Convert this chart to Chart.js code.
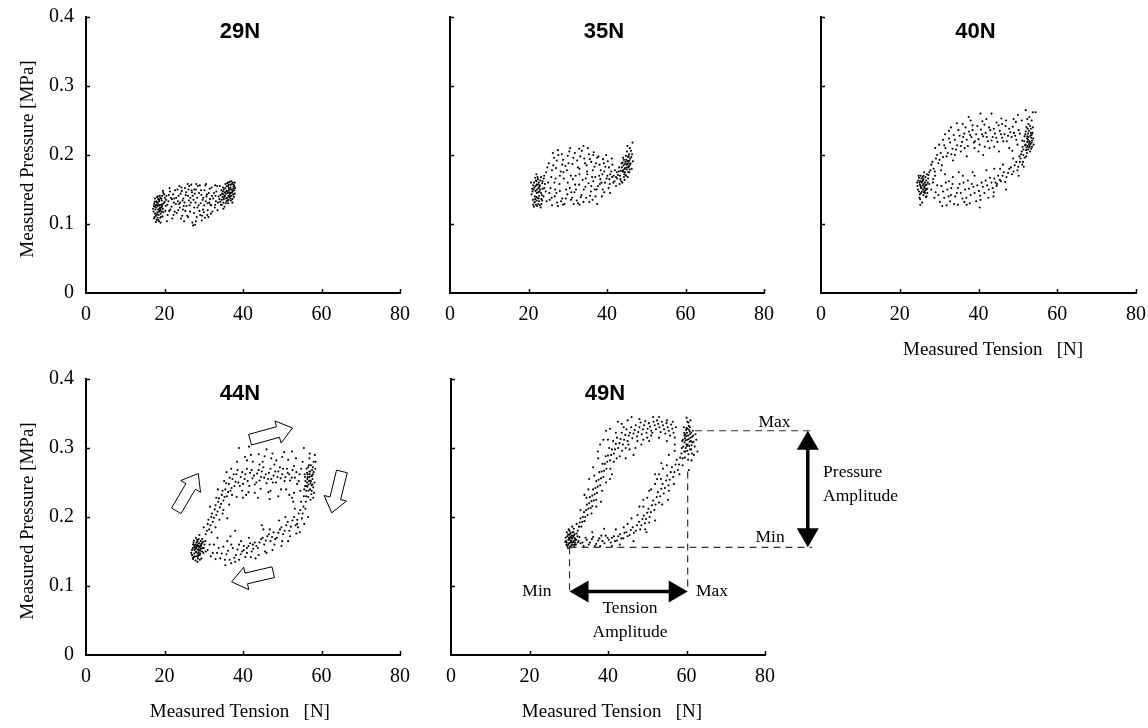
<!DOCTYPE html>
<html>
<head>
<meta charset="utf-8">
<title>Measured pressure vs measured tension</title>
<script src="https://cdn.jsdelivr.net/npm/chart.js@4.4.1/dist/chart.umd.min.js"></script>
<style>
	body { margin: 0; background: #fff; }
	#board { position: relative; width: 1148px; height: 728px; overflow: hidden; background: #fff; }
	#board canvas { position: absolute; }
</style>
</head>
<body>
<div id="board"></div>
<script>
// panel labels and axis ticks
const loadLabels = ['29N', '35N', '40N', '44N', '49N'];
const tensionTicks = [0, 20, 40, 60, 80];
const pressureTicks = [0, 0.1, 0.2, 0.3, 0.4];

// [tension N, pressure MPa]
const loop29N = [
	[17.2,0.118],[17.5,0.125],[17.8,0.112],[18.1,0.131],[18.4,0.121],[18.0,0.106],[18.7,0.127],[19.0,0.115],[19.3,0.134],[17.6,0.137],
	[18.3,0.140],[18.9,0.109],[19.6,0.122],[17.4,0.129],[18.2,0.117],[18.6,0.133],[19.1,0.128],[17.9,0.124],[18.5,0.113],[19.4,0.141],
	[17.3,0.108],[18.8,0.119],[19.8,0.130],[18.0,0.128],[18.4,0.136],[17.7,0.121],[19.2,0.124],[18.6,0.104],[19.5,0.111],[20.1,0.138],
	[17.5,0.132],[18.1,0.114],[18.9,0.138],[19.7,0.145],[20.3,0.126],[18.3,0.126],[17.8,0.103],[19.0,0.102],[18.7,0.122],[19.3,0.118],
	[17.1,0.122],[17.9,0.133],[18.2,0.109],[18.5,0.128],[18.8,0.141],[19.1,0.110],[19.4,0.126],[19.7,0.117],[20.0,0.132],[17.6,0.115],
	[18.3,0.131],[18.9,0.124],[19.2,0.137],[17.8,0.127],[18.6,0.118],[19.5,0.129],[20.2,0.119],[18.1,0.139],[17.5,0.110],[19.9,0.143],
	[18.4,0.106],[19.0,0.121],[18.7,0.135],[17.3,0.126],[20.4,0.135],
	[20.5,0.141],[21.0,0.133],[21.4,0.147],[21.8,0.125],[22.2,0.143],[22.6,0.118],[23.0,0.138],[23.3,0.150],[23.7,0.129],[24.1,0.144],
	[24.5,0.112],[24.8,0.137],[25.2,0.152],[25.6,0.126],[26.0,0.141],[26.3,0.155],[26.7,0.131],[27.0,0.146],[27.3,0.098],[27.6,0.124],
	[28.0,0.150],[28.3,0.138],[28.7,0.127],[29.0,0.156],[29.4,0.142],[29.8,0.121],[30.2,0.149],[30.5,0.133],[30.9,0.113],[31.3,0.145],
	[31.7,0.128],[32.0,0.153],[32.4,0.137],[32.8,0.124],[33.2,0.147],[33.6,0.131],[22.0,0.108],[23.5,0.120],[25.0,0.104],[26.5,0.118],
	[28.2,0.110],[29.5,0.105],[31.0,0.120],[27.8,0.099],[24.0,0.131],[26.2,0.134],[28.8,0.145],[30.7,0.140],[32.2,0.118],[21.2,0.119],
	[22.9,0.129],[25.4,0.142],[27.4,0.135],[29.2,0.130],[31.6,0.136],[33.0,0.141],[26.9,0.149],[24.4,0.148],[20.8,0.113],[30.0,0.117],
	[20.7,0.128],[21.1,0.142],[21.5,0.121],[21.9,0.136],[22.4,0.131],[22.7,0.149],[23.1,0.116],[23.6,0.141],[23.9,0.124],[24.3,0.153],
	[24.7,0.121],[25.1,0.131],[25.5,0.146],[25.8,0.112],[26.4,0.127],[26.8,0.157],[27.2,0.141],[27.5,0.116],[27.9,0.131],[28.5,0.155],
	[28.9,0.119],[29.3,0.149],[29.7,0.135],[30.1,0.127],[30.4,0.156],[30.8,0.143],[31.2,0.110],[31.5,0.151],[31.9,0.127],[32.6,0.145],
	[33.1,0.133],[33.4,0.155],[22.5,0.137],[24.6,0.134],[26.1,0.150],[27.7,0.144],[29.9,0.138],[32.1,0.141],[25.3,0.119],[28.4,0.124],
	[30.3,0.109],[23.4,0.133],[21.6,0.138],[26.6,0.138],[31.4,0.131],[27.1,0.102],[29.1,0.113],
	[21.3,0.152],[23.8,0.155],[25.9,0.158],[28.1,0.158],[30.6,0.158],[32.9,0.156],[34.1,0.155],[22.3,0.113],[24.2,0.108],[26.0,0.110],
	[28.0,0.104],[29.6,0.112],[31.8,0.115],[33.5,0.120],[35.0,0.122],[19.6,0.148],[20.6,0.104],[24.9,0.126],[27.6,0.150],[31.0,0.130],
	[32.9,0.128],[34.6,0.135],[37.9,0.160],
	[34.0,0.136],[34.3,0.142],[34.6,0.128],[34.9,0.147],[35.2,0.139],[35.5,0.152],[35.8,0.133],[36.1,0.145],[36.4,0.157],[36.7,0.140],
	[37.0,0.150],[37.3,0.136],[37.6,0.154],[35.0,0.131],[35.6,0.144],[36.0,0.138],[36.3,0.149],[36.6,0.161],[36.9,0.145],[37.2,0.158],
	[37.5,0.143],[37.8,0.149],[35.3,0.125],[35.9,0.155],[36.2,0.130],[36.8,0.153],[37.1,0.141],[34.5,0.149],[35.7,0.137],[36.5,0.146],
	[37.4,0.160],[36.0,0.159],[35.4,0.146],[34.8,0.139],[36.9,0.134],[38.0,0.152],[37.7,0.139],[36.3,0.141],[35.1,0.150],[36.7,0.150],
	[33.8,0.140],[34.2,0.132],[34.7,0.144],[35.1,0.136],[35.4,0.141],[35.8,0.148],[36.1,0.134],[36.4,0.152],[36.6,0.143],[36.9,0.157],
	[37.2,0.146],[37.5,0.151],[37.9,0.144],[36.2,0.155],[35.6,0.130],[36.8,0.137],[37.3,0.131],[35.0,0.143],[36.5,0.139],[37.6,0.157],
	[34.4,0.128],[36.0,0.147],[37.0,0.162],[35.5,0.158],[36.7,0.145],[37.8,0.155],[34.9,0.153],[36.3,0.135],[37.4,0.148],[36.1,0.160]
];
const loop35N = [
	[20.8,0.143],[21.2,0.156],[21.5,0.131],[21.8,0.148],[22.0,0.162],[22.3,0.138],[22.6,0.152],[22.9,0.127],[23.2,0.145],[23.5,0.159],
	[21.4,0.125],[21.7,0.167],[22.1,0.134],[22.4,0.157],[22.7,0.141],[23.0,0.163],[23.3,0.136],[21.9,0.128],[22.2,0.150],[22.8,0.147],
	[21.6,0.140],[23.6,0.151],[22.5,0.129],[21.3,0.150],[23.9,0.166],[22.0,0.172],[24.2,0.158],[22.4,0.165],[21.1,0.135],[23.1,0.124],
	[22.6,0.160],[21.8,0.155],[23.4,0.142],[24.4,0.147],[20.6,0.160],
	[21.0,0.147],[21.4,0.160],[21.7,0.136],[22.1,0.145],[22.3,0.168],[22.7,0.133],[23.0,0.150],[23.3,0.129],[23.6,0.162],[21.5,0.153],
	[22.0,0.139],[22.5,0.146],[22.9,0.156],[21.2,0.128],[23.8,0.140],[22.2,0.126],[21.9,0.163],[23.2,0.168],[24.0,0.152],[20.9,0.151],
	[22.6,0.137],[21.6,0.132],[23.5,0.134],[22.8,0.154],[22.1,0.157],
	[24.5,0.175],[25.2,0.188],[25.8,0.168],[26.5,0.196],[27.0,0.181],[27.6,0.200],[28.2,0.176],[28.8,0.193],[29.4,0.184],[30.0,0.199],
	[30.6,0.210],[31.2,0.187],[31.8,0.203],[32.4,0.192],[33.0,0.180],[33.6,0.206],[34.2,0.195],[34.8,0.185],[35.4,0.201],[36.0,0.190],
	[36.6,0.204],[37.2,0.188],[37.8,0.198],[38.4,0.178],[39.0,0.194],[39.6,0.183],[40.2,0.191],[40.8,0.172],[41.4,0.186],[42.0,0.178],
	[35.0,0.172],[32.0,0.170],[29.0,0.166],[26.0,0.178],[38.0,0.170],
	[25.0,0.160],[25.6,0.152],[26.3,0.185],[26.9,0.166],[27.2,0.192],[27.9,0.158],[28.5,0.201],[28.9,0.175],[29.6,0.150],[30.2,0.188],
	[30.8,0.170],[31.4,0.196],[31.9,0.157],[32.6,0.182],[33.2,0.198],[33.8,0.164],[34.4,0.188],[34.9,0.176],[35.6,0.194],[36.2,0.168],
	[36.8,0.183],[37.4,0.150],[38.1,0.186],[38.6,0.160],[39.3,0.176],[39.9,0.166],[40.5,0.182],[41.1,0.176],[41.7,0.170],[42.3,0.168],
	[26.2,0.203],[28.6,0.186],[32.9,0.209],[35.1,0.210],[37.5,0.196],[24.8,0.182],[39.8,0.200],
	[24.0,0.170],[26.6,0.160],[28.0,0.170],[29.8,0.178],[31.3,0.165],[33.0,0.172],[34.6,0.166],[36.4,0.178],[38.8,0.172],[40.6,0.165],
	[27.5,0.207],[30.4,0.205],[34.0,0.213],[36.5,0.200],[39.2,0.188],[41.2,0.195],[25.4,0.135],[28.8,0.128],[32.6,0.130],[35.5,0.132],
	[38.7,0.140],[40.8,0.145],[42.3,0.155],[26.8,0.150],[30.8,0.135],[37.0,0.168],
	[24.6,0.133],[25.3,0.145],[26.0,0.127],[26.7,0.140],[27.3,0.131],[28.0,0.148],[28.6,0.137],[29.2,0.129],[29.9,0.143],[30.5,0.152],
	[31.1,0.138],[31.7,0.146],[32.3,0.134],[32.9,0.157],[33.5,0.142],[34.1,0.150],[34.7,0.138],[35.3,0.159],[35.9,0.147],[36.5,0.162],
	[37.1,0.140],[37.7,0.155],[38.3,0.165],[38.9,0.150],[39.5,0.160],[40.1,0.170],[40.7,0.158],[41.3,0.168],[41.9,0.162],[42.5,0.175],
	[37.5,0.129],[27.5,0.126],[33.0,0.128],[30.0,0.160],[36.0,0.155],
	[25.9,0.138],[27.1,0.145],[28.3,0.133],[29.5,0.137],[30.9,0.146],[32.1,0.150],[33.3,0.139],[34.5,0.154],[35.7,0.141],[36.9,0.150],
	[38.2,0.158],[39.3,0.146],[40.4,0.152],[41.6,0.160],[31.5,0.129],[34.0,0.132],[36.3,0.135],
	[42.8,0.171],[43.1,0.182],[43.4,0.165],[43.7,0.188],[44.0,0.176],[44.3,0.193],[44.6,0.181],[44.9,0.170],[45.2,0.187],[45.5,0.198],
	[43.9,0.160],[44.4,0.172],[44.7,0.190],[45.0,0.179],[45.3,0.168],[45.6,0.184],[45.9,0.195],[44.2,0.185],[44.8,0.199],[45.1,0.205],
	[45.7,0.175],[46.0,0.188],[43.5,0.177],[44.5,0.164],[45.4,0.191],[46.3,0.180],[45.8,0.210],[46.5,0.218],[45.2,0.213],[46.2,0.197],
	[43.2,0.158],[44.1,0.196],[46.6,0.191],[44.6,0.175],[45.5,0.182],
	[42.6,0.166],[43.0,0.176],[43.3,0.170],[43.8,0.182],[44.1,0.178],[44.3,0.168],[44.6,0.187],[44.9,0.193],[45.1,0.182],[45.4,0.175],
	[45.7,0.192],[45.9,0.186],[44.5,0.180],[45.0,0.186],[45.3,0.197],[44.0,0.189],[45.6,0.201],[46.1,0.206],[44.7,0.171],[43.6,0.162],
	[45.2,0.191],[46.4,0.201],[45.8,0.179],[44.2,0.176],[45.5,0.188]
];
const loop40N = [
	[24.5,0.155],[24.9,0.147],[25.2,0.162],[25.5,0.153],[25.8,0.168],[26.1,0.158],[26.4,0.145],[26.7,0.163],[27.0,0.151],[25.0,0.138],
	[25.3,0.170],[25.6,0.160],[25.9,0.150],[26.2,0.175],[26.5,0.156],[26.8,0.140],[27.2,0.166],[24.7,0.163],[25.4,0.145],[26.0,0.165],
	[26.3,0.152],[25.7,0.131],[26.9,0.172],[27.5,0.158],[25.1,0.157],[26.6,0.149],[25.2,0.128],[27.8,0.178],[24.8,0.170],[26.0,0.142],
	[24.6,0.150],[25.0,0.160],[25.3,0.155],[25.6,0.147],[25.9,0.163],[26.2,0.154],[26.5,0.168],[26.7,0.151],[27.1,0.160],[25.1,0.143],
	[25.5,0.166],[25.8,0.156],[26.1,0.146],[26.4,0.160],[26.8,0.157],[24.9,0.167],[25.4,0.152],[26.0,0.170],[26.6,0.139],[27.3,0.171],
	[24.4,0.160],[25.7,0.162],[26.3,0.148],[25.2,0.136],[27.0,0.145],
	[27.5,0.175],[28.0,0.186],[28.6,0.180],[29.2,0.195],[29.8,0.188],[30.4,0.203],[31.0,0.197],[31.6,0.210],[32.2,0.203],[32.8,0.218],
	[33.4,0.209],[34.0,0.222],[34.6,0.214],[35.2,0.228],[35.8,0.219],[36.4,0.231],[37.0,0.222],[37.6,0.234],[38.2,0.226],[38.8,0.218],
	[39.4,0.230],[40.0,0.223],[40.6,0.237],[41.2,0.227],[41.8,0.232],[42.4,0.220],[43.0,0.236],[43.6,0.226],[44.2,0.231],[44.8,0.219],
	[45.4,0.235],[46.0,0.225],[46.6,0.230],[47.2,0.220],[47.8,0.238],[48.4,0.226],[49.0,0.232],[49.6,0.222],[50.2,0.236],[33.0,0.240],
	[36.0,0.245],[38.5,0.243],[40.5,0.260],[43.3,0.260],[47.0,0.250],[41.6,0.212],[44.6,0.247],[30.0,0.215],[35.5,0.205],[39.0,0.210],
	[28.3,0.190],[28.9,0.176],[29.5,0.200],[30.1,0.193],[30.7,0.185],[31.3,0.214],[31.9,0.198],[32.5,0.224],[33.1,0.201],[33.7,0.229],
	[34.3,0.208],[34.9,0.236],[35.5,0.213],[36.1,0.226],[36.7,0.240],[37.3,0.213],[37.9,0.229],[38.5,0.236],[39.1,0.220],[39.7,0.242],
	[40.3,0.215],[40.9,0.230],[41.5,0.244],[42.1,0.226],[42.7,0.240],[43.3,0.221],[43.9,0.238],[44.5,0.225],[45.1,0.243],[45.7,0.230],
	[46.3,0.220],[46.9,0.242],[47.5,0.228],[48.1,0.233],[48.7,0.241],[49.3,0.228],[49.9,0.215],[50.5,0.231],[37.5,0.255],[41.0,0.249],
	[45.8,0.253],[48.9,0.252],[34.5,0.246],[31.5,0.230],[42.8,0.210],
	[29.0,0.210],[31.0,0.222],[32.5,0.235],[34.0,0.200],[36.5,0.210],[38.0,0.250],[40.0,0.205],[42.0,0.252],[44.0,0.212],[46.0,0.245],
	[47.8,0.210],[49.5,0.248],[51.0,0.250],[28.5,0.165],[30.5,0.178],[33.5,0.192],[37.0,0.198],[41.2,0.200],[45.2,0.205],[48.6,0.206],
	[50.0,0.258],[53.8,0.262],[52.4,0.252],
	[28.0,0.150],[28.8,0.138],[29.5,0.156],[30.2,0.132],[31.0,0.147],[31.7,0.160],[32.4,0.140],[33.1,0.152],[33.8,0.129],[34.5,0.145],
	[35.2,0.158],[35.9,0.137],[36.6,0.150],[37.3,0.163],[38.0,0.142],[38.7,0.154],[39.4,0.133],[40.1,0.148],[40.8,0.160],[41.5,0.145],
	[42.2,0.156],[42.9,0.167],[43.6,0.152],[44.3,0.160],[45.0,0.170],[45.7,0.162],[46.4,0.175],[47.1,0.168],[47.8,0.180],[48.5,0.172],
	[49.2,0.185],[49.9,0.178],[30.8,0.126],[37.8,0.130],[40.3,0.124],[42.5,0.138],[36.0,0.170],[33.5,0.168],[44.6,0.155],[39.0,0.170],
	[28.4,0.160],[29.1,0.146],[29.8,0.142],[30.6,0.155],[31.3,0.138],[32.1,0.150],[32.8,0.133],[33.4,0.158],[34.1,0.140],[34.8,0.152],
	[35.5,0.145],[36.2,0.160],[36.9,0.138],[37.6,0.151],[38.3,0.158],[39.0,0.145],[39.7,0.156],[40.4,0.141],[41.1,0.154],[41.8,0.163],
	[42.6,0.150],[43.3,0.160],[44.0,0.166],[44.7,0.158],[45.4,0.164],[46.1,0.170],[46.8,0.161],[47.5,0.174],[48.2,0.182],[48.9,0.176],
	[49.6,0.190],[50.1,0.183],[34.8,0.128],[36.4,0.132],[31.9,0.127],[43.9,0.146],
	[29.0,0.170],[31.5,0.172],[33.0,0.142],[35.0,0.175],[37.0,0.128],[38.5,0.175],[40.5,0.135],[42.0,0.178],[43.8,0.140],[45.5,0.180],
	[47.0,0.150],[48.8,0.195],[46.2,0.186],[44.0,0.180],[32.5,0.162],[50.2,0.170],
	[50.5,0.190],[50.8,0.201],[51.1,0.186],[51.4,0.208],[51.7,0.196],[52.0,0.215],[52.3,0.203],[52.6,0.222],[52.9,0.211],[53.2,0.228],
	[53.5,0.218],[51.9,0.230],[52.2,0.240],[52.5,0.213],[52.8,0.235],[53.1,0.205],[53.4,0.225],[53.7,0.232],[51.6,0.220],[52.4,0.227],
	[53.0,0.219],[53.6,0.212],[52.1,0.198],[52.7,0.245],[53.3,0.238],[51.2,0.212],[50.4,0.198],[53.9,0.224],[52.9,0.255],[52.0,0.265],
	[54.5,0.262],[53.5,0.250],[51.5,0.183],[52.6,0.208],[53.8,0.240],
	[50.7,0.195],[51.0,0.205],[51.3,0.190],[51.8,0.214],[52.1,0.207],[52.4,0.219],[52.7,0.226],[53.0,0.213],[53.3,0.232],[53.6,0.221],
	[51.7,0.227],[52.0,0.234],[52.3,0.224],[52.6,0.231],[52.9,0.220],[53.2,0.216],[53.5,0.229],[51.4,0.200],[52.8,0.216],[53.4,0.209],
	[54.0,0.215],[51.1,0.221],[52.5,0.238],[53.1,0.242],[52.2,0.211]
];
const loop44N = [
	[26.8,0.148],[27.2,0.155],[27.5,0.142],[27.8,0.160],[28.1,0.150],[28.4,0.165],[28.7,0.153],[29.0,0.145],[29.3,0.158],[29.6,0.168],
	[27.4,0.163],[27.9,0.137],[28.2,0.157],[28.5,0.147],[28.8,0.162],[29.1,0.151],[29.4,0.140],[29.7,0.155],[28.0,0.170],[28.6,0.158],
	[27.6,0.152],[29.2,0.165],[28.3,0.143],[27.1,0.145],[29.9,0.148],[28.9,0.174],[30.2,0.160],[28.4,0.135],[27.3,0.139],[30.5,0.150],
	[28.7,0.149],[29.5,0.162],[28.1,0.155],[27.7,0.158],[29.0,0.156],
	[27.0,0.152],[27.3,0.160],[27.6,0.147],[27.9,0.154],[28.2,0.163],[28.5,0.153],[28.8,0.157],[29.1,0.147],[29.4,0.161],[28.0,0.149],
	[28.3,0.167],[28.6,0.144],[28.9,0.152],[29.2,0.159],[29.6,0.150],[27.5,0.166],[28.4,0.160],[27.8,0.143],[29.3,0.154],[28.7,0.168],
	[30.0,0.155],[27.2,0.141],[29.8,0.164],[28.1,0.158],[28.5,0.140],[30.4,0.165],[27.0,0.145],[29.0,0.138],[28.8,0.145],[27.6,0.156],
	[30.5,0.175],[31.0,0.190],[31.4,0.182],[31.9,0.200],[32.3,0.193],[32.8,0.211],[33.2,0.203],[33.7,0.222],[34.1,0.214],[34.6,0.232],
	[35.0,0.224],[35.5,0.240],[35.9,0.230],[36.4,0.248],[36.8,0.238],[37.3,0.255],[37.8,0.245],[38.3,0.262],[38.8,0.250],[39.4,0.258],
	[40.0,0.248],[40.6,0.262],[41.2,0.252],[41.8,0.264],[42.4,0.256],[43.0,0.247],[43.6,0.263],[44.2,0.253],[44.8,0.266],[45.4,0.257],
	[46.0,0.249],[46.6,0.264],[47.2,0.255],[47.8,0.260],[48.4,0.250],[49.0,0.266],[49.6,0.256],[50.2,0.270],[50.8,0.258],[51.4,0.264],
	[52.0,0.253],[52.6,0.268],[53.2,0.257],[53.8,0.248],[54.4,0.262],[39.0,0.300],[41.5,0.302],[44.0,0.291],[46.0,0.298],[48.5,0.282],
	[52.5,0.295],[55.5,0.300],[45.0,0.280],[37.0,0.270],[42.5,0.280],[50.0,0.287],[43.0,0.235],[47.0,0.238],[35.0,0.210],[40.0,0.228],
	[33.0,0.185],[51.0,0.240],
	[30.8,0.180],[31.2,0.196],[31.7,0.188],[32.1,0.205],[32.6,0.199],[33.0,0.217],[33.5,0.208],[33.9,0.227],[34.4,0.219],[34.8,0.238],
	[35.3,0.229],[35.7,0.249],[36.2,0.236],[36.6,0.257],[37.1,0.242],[37.6,0.262],[38.1,0.251],[38.6,0.268],[39.2,0.245],[39.8,0.265],
	[40.4,0.255],[41.0,0.270],[41.6,0.245],[42.2,0.268],[42.8,0.260],[43.4,0.250],[44.0,0.268],[44.6,0.258],[45.2,0.272],[45.8,0.262],
	[46.4,0.255],[47.0,0.270],[47.6,0.250],[48.2,0.266],[48.8,0.258],[49.4,0.272],[50.0,0.262],[50.6,0.252],[51.2,0.270],[51.8,0.262],
	[52.4,0.257],[53.0,0.274],[53.6,0.265],[54.2,0.252],[54.8,0.270],[38.4,0.229],[41.4,0.236],[44.5,0.241],[46.8,0.226],[49.7,0.240],
	[53.0,0.235],[36.5,0.218],[34.0,0.196],[40.5,0.287],[47.5,0.292],[51.5,0.283],
	[38.5,0.280],[40.8,0.232],[42.0,0.290],[43.8,0.228],[45.5,0.288],[46.5,0.236],[48.0,0.276],[49.0,0.230],[50.5,0.294],[51.8,0.232],
	[53.5,0.285],[54.6,0.238],[35.8,0.265],[37.2,0.232],[39.8,0.238],[41.0,0.282],[44.2,0.276],[47.2,0.285],[52.8,0.222],[55.2,0.280],
	[33.2,0.228],[32.0,0.178],[34.8,0.205],[36.0,0.198],[30.0,0.185],[31.6,0.215],[33.6,0.240],[35.2,0.252],
	[31.0,0.152],[31.8,0.143],[32.6,0.160],[33.4,0.148],[34.2,0.140],[35.0,0.157],[35.8,0.146],[36.6,0.138],[37.4,0.155],[38.2,0.145],
	[39.0,0.160],[39.8,0.150],[40.6,0.142],[41.4,0.158],[42.2,0.150],[43.0,0.163],[43.8,0.155],[44.6,0.168],[45.4,0.160],[46.2,0.172],
	[47.0,0.165],[47.8,0.178],[48.6,0.170],[49.4,0.182],[50.2,0.175],[51.0,0.188],[51.8,0.180],[52.6,0.195],[53.4,0.188],[54.2,0.205],
	[55.0,0.198],[55.4,0.215],[54.8,0.222],[53.8,0.190],[41.0,0.155],[42.5,0.160],[40.2,0.152],[37.0,0.133],[44.0,0.145],[48.0,0.160],
	[36.0,0.165],[46.8,0.182],[52.0,0.172],[54.0,0.185],
	[31.5,0.160],[32.3,0.148],[33.0,0.139],[33.8,0.155],[34.6,0.147],[35.4,0.138],[36.2,0.151],[37.0,0.160],[37.8,0.141],[38.6,0.153],
	[39.4,0.146],[40.2,0.158],[41.0,0.148],[41.8,0.162],[42.6,0.154],[43.4,0.158],[44.2,0.163],[45.0,0.170],[45.8,0.166],[46.6,0.175],
	[47.4,0.171],[48.2,0.168],[49.0,0.177],[49.8,0.185],[50.6,0.180],[51.4,0.193],[52.2,0.186],[53.0,0.200],[53.8,0.196],[54.6,0.210],
	[55.2,0.205],[38.0,0.135],[42.0,0.142],[45.6,0.150],[50.0,0.165],[39.5,0.165],
	[33.5,0.170],[36.8,0.172],[39.0,0.138],[41.5,0.170],[43.2,0.140],[45.2,0.182],[47.5,0.152],[49.2,0.195],[51.5,0.165],[53.2,0.212],
	[54.5,0.178],[50.8,0.200],[46.0,0.148],[44.8,0.188],[38.0,0.180],[35.5,0.130],[52.5,0.228],[55.6,0.190],[53.6,0.176],[49.8,0.158],
	[55.5,0.230],[55.8,0.245],[56.1,0.238],[56.4,0.255],[56.7,0.247],[57.0,0.262],[57.3,0.252],[57.6,0.268],[57.9,0.243],[56.2,0.270],
	[56.5,0.262],[56.8,0.275],[57.1,0.240],[57.4,0.233],[57.7,0.255],[58.0,0.280],[56.0,0.222],[56.6,0.229],[57.2,0.225],[57.8,0.262],
	[58.3,0.290],[56.9,0.285],[55.7,0.262],[58.1,0.235],[57.5,0.246],[56.3,0.250],[56.9,0.258],[55.9,0.212],[56.6,0.200],[58.4,0.270],
	[57.0,0.292],
	[55.6,0.240],[55.9,0.252],[56.2,0.245],[56.5,0.258],[56.8,0.252],[57.1,0.266],[57.4,0.259],[57.7,0.247],[58.0,0.265],[56.3,0.264],
	[56.6,0.272],[56.9,0.266],[57.2,0.249],[57.5,0.238],[57.8,0.272],[56.1,0.230],[56.7,0.238],[57.3,0.275],[58.2,0.250],[55.8,0.258],
	[56.4,0.244],[57.0,0.253],[57.6,0.260],[58.5,0.280],[57.9,0.228]
];
const loop49N = [
	[29.3,0.165],[29.6,0.172],[29.9,0.160],[30.2,0.168],[30.5,0.177],[30.8,0.163],[31.1,0.171],[31.4,0.158],[31.7,0.167],[30.0,0.182],
	[30.3,0.157],[30.6,0.170],[30.9,0.186],[31.2,0.164],[31.5,0.175],[29.8,0.155],[30.4,0.163],[31.0,0.178],[31.8,0.160],[32.2,0.172],
	[29.5,0.178],[30.7,0.159],[31.3,0.183],[32.5,0.165],[30.1,0.174],[33.0,0.162],[32.0,0.190],[30.5,0.166],[31.6,0.169],[29.4,0.160],
	[29.2,0.170],[29.5,0.163],[29.8,0.175],[30.1,0.162],[30.4,0.171],[30.7,0.165],[31.0,0.160],[31.3,0.173],[31.6,0.163],[29.9,0.167],
	[30.2,0.180],[30.6,0.156],[30.9,0.169],[31.2,0.178],[31.9,0.167],[29.6,0.158],[30.3,0.175],[31.5,0.160],[32.3,0.163],[29.1,0.164],
	[30.8,0.173],[31.4,0.166],[32.0,0.176],[30.0,0.170],[32.7,0.171],
	[32.3,0.180],[32.8,0.192],[33.2,0.186],[33.6,0.200],[34.0,0.194],[34.4,0.210],[34.8,0.203],[35.2,0.220],[35.6,0.213],[36.0,0.231],
	[36.4,0.224],[36.8,0.242],[37.2,0.235],[37.6,0.254],[38.0,0.246],[38.4,0.266],[38.8,0.258],[39.2,0.277],[39.6,0.270],[40.0,0.289],
	[40.5,0.282],[41.0,0.298],[41.5,0.292],[42.0,0.306],[42.6,0.300],[43.2,0.313],[43.8,0.305],[44.4,0.319],[45.0,0.310],[45.6,0.322],
	[46.2,0.314],[46.8,0.326],[47.4,0.317],[48.0,0.330],[48.6,0.320],[49.2,0.333],[49.8,0.322],[50.4,0.336],[51.0,0.325],[51.6,0.338],
	[52.2,0.327],[52.8,0.335],[53.4,0.323],[54.0,0.333],[54.6,0.321],[55.2,0.330],[55.8,0.318],[56.4,0.328],[57.0,0.315],[38.0,0.305],
	[39.5,0.325],[42.0,0.322],[45.5,0.298],[48.5,0.305],[43.0,0.288],[36.5,0.260],[40.5,0.255],[37.0,0.215],[35.0,0.240],[46.5,0.290],
	[50.5,0.310],[44.0,0.330],[51.5,0.345],
	[32.6,0.186],[33.0,0.198],[33.4,0.193],[33.9,0.207],[34.2,0.200],[34.6,0.218],[35.0,0.212],[35.4,0.229],[35.8,0.223],[36.2,0.240],
	[36.6,0.233],[37.0,0.252],[37.4,0.244],[37.8,0.265],[38.2,0.256],[38.6,0.277],[39.0,0.267],[39.4,0.288],[39.8,0.280],[40.3,0.300],
	[40.8,0.290],[41.3,0.310],[41.8,0.298],[42.3,0.315],[42.9,0.307],[43.5,0.322],[44.1,0.312],[44.7,0.327],[45.3,0.318],[45.9,0.330],
	[46.5,0.321],[47.1,0.333],[47.7,0.323],[48.3,0.337],[48.9,0.327],[49.5,0.339],[50.1,0.328],[50.7,0.331],[51.3,0.322],[51.9,0.333],
	[52.5,0.340],[53.1,0.330],[53.7,0.338],[54.3,0.327],[54.9,0.336],[55.5,0.325],[56.1,0.334],[56.7,0.322],[57.3,0.330],[36.0,0.216],
	[38.5,0.238],[41.5,0.280],[44.5,0.300],[47.5,0.310],[50.0,0.315],[34.5,0.228],[37.5,0.285],[40.0,0.312],[43.5,0.335],[45.0,0.340],
	[33.0,0.210],[34.0,0.232],[35.2,0.255],[36.2,0.272],[37.4,0.295],[38.8,0.312],[40.5,0.328],[42.5,0.338],[46.0,0.345],[48.0,0.342],
	[53.0,0.345],[55.0,0.340],[56.5,0.338],[35.8,0.205],[37.0,0.225],[38.2,0.222],[39.5,0.250],[40.6,0.270],[42.2,0.285],[43.6,0.296],
	[45.2,0.305],[47.0,0.300],[49.0,0.312],[51.0,0.318],[53.0,0.315],[55.0,0.310],[41.0,0.262],[44.5,0.285],
	[33.5,0.163],[34.3,0.170],[35.1,0.160],[35.9,0.168],[36.7,0.158],[37.5,0.166],[38.3,0.173],[39.1,0.162],[39.9,0.170],[40.7,0.163],
	[41.5,0.172],[42.3,0.166],[43.1,0.175],[43.9,0.169],[44.7,0.178],[45.5,0.174],[46.3,0.185],[47.1,0.180],[47.9,0.193],[48.5,0.188],
	[49.1,0.202],[49.7,0.197],[50.3,0.212],[50.9,0.207],[51.5,0.224],[52.1,0.218],[52.7,0.236],[53.3,0.230],[53.9,0.248],[54.5,0.242],
	[55.1,0.260],[55.7,0.254],[56.3,0.272],[56.9,0.265],[57.5,0.283],[58.1,0.276],[58.7,0.292],[59.0,0.285],[48.0,0.215],[50.0,0.228],
	[52.5,0.255],[54.0,0.270],[46.0,0.198],[51.0,0.240],[53.0,0.262],[49.5,0.182],[44.0,0.185],[41.0,0.158],[55.5,0.238],[57.0,0.296],
	[50.5,0.192],
	[33.8,0.158],[34.6,0.167],[35.4,0.163],[36.2,0.171],[37.0,0.161],[37.8,0.169],[38.6,0.165],[39.4,0.173],[40.2,0.167],[41.0,0.170],
	[41.8,0.165],[42.6,0.172],[43.4,0.169],[44.2,0.177],[45.0,0.172],[45.8,0.181],[46.6,0.177],[47.4,0.188],[48.2,0.182],[48.8,0.197],
	[49.4,0.191],[50.0,0.206],[50.6,0.200],[51.2,0.217],[51.8,0.210],[52.4,0.229],[53.0,0.221],[53.6,0.241],[54.2,0.234],[54.8,0.253],
	[55.4,0.246],[56.0,0.265],[56.6,0.258],[57.2,0.276],[57.8,0.268],[58.4,0.286],[52.0,0.248],[55.0,0.275],[49.0,0.215],[53.5,0.255],
	[36.0,0.178],[39.0,0.183],[42.0,0.182],[45.0,0.190],[47.5,0.203],[49.0,0.225],[50.5,0.238],[52.0,0.262],[53.6,0.278],[55.5,0.290],
	[57.0,0.305],[46.5,0.165],[49.8,0.178],[52.0,0.195],[53.8,0.218],[55.3,0.225],[56.8,0.248],[58.2,0.262],[43.0,0.160],[38.0,0.158],
	[58.8,0.300],[59.1,0.312],[59.4,0.295],[59.7,0.320],[60.0,0.305],[60.3,0.328],[60.6,0.313],[60.9,0.298],[61.2,0.322],[61.5,0.308],
	[59.3,0.330],[59.6,0.286],[59.9,0.317],[60.2,0.296],[60.5,0.337],[60.8,0.324],[61.1,0.310],[61.4,0.292],[59.5,0.308],[60.1,0.322],
	[60.7,0.303],[61.7,0.318],[62.1,0.302],[60.4,0.283],[59.0,0.275],[61.0,0.340],[60.0,0.344],[62.5,0.312],[61.9,0.290],[60.6,0.268],
	[59.8,0.300],[60.9,0.330],[61.3,0.282],[62.8,0.295],[60.2,0.312],
	[58.9,0.310],[59.2,0.302],[59.5,0.318],[59.8,0.311],[60.1,0.303],[60.4,0.318],[60.7,0.326],[61.0,0.315],[61.3,0.304],[61.6,0.325],
	[59.4,0.322],[59.7,0.295],[60.0,0.329],[60.3,0.305],[60.6,0.332],[60.9,0.320],[61.2,0.298],[59.6,0.314],[60.2,0.338],[60.8,0.309],
	[61.4,0.316],[61.8,0.309],[60.5,0.291],[59.9,0.326],[62.3,0.320]
];

// amplitude read for the 49N panel
const tensionMinMax = [30.2, 60.3];
const pressureMinMax = [0.156, 0.325];

const serif = 'Liberation Serif, Times New Roman, serif';
Chart.defaults.font.family = serif;
Chart.defaults.color = '#000';

let panels = [
	{ id: 'p29', points: loop29N, title: loadLabels[0], left: 0, top: 0, width: 414, padRight: 14, yLabels: true, xTitleAt: null },
	{ id: 'p35', points: loop35N, title: loadLabels[1], left: 364, top: 0, width: 414, padRight: 14, yLabels: false, xTitleAt: null },
	{ id: 'p40', points: loop40N, title: loadLabels[2], left: 735, top: 0, width: 413, padRight: 12, yLabels: false, xTitleAt: 43.7 },
	{ id: 'p44', points: loop44N, title: loadLabels[3], left: 0, top: 362, width: 414, padRight: 14, yLabels: true, xTitleAt: 39.2 },
	{ id: 'p49', points: loop49N, title: loadLabels[4], left: 365, top: 362, width: 555, padRight: 155, yLabels: false, xTitleAt: 41 }
];

// hollow arrows on the 44N panel, [tail x, tail y, tip x, tip y] in axis units
let cycleArrows = [
	[23.0, 0.209, 28.6, 0.263],
	[41.8, 0.312, 52.6, 0.329],
	[65.2, 0.266, 62.6, 0.206],
	[47.7, 0.120, 37.1, 0.106]
];

function line(ctx, x0, y0, x1, y1)
{
	ctx.beginPath();
	ctx.moveTo(x0, y0);
	ctx.lineTo(x1, y1);
	ctx.stroke();
}

function hollowArrow(ctx, x0, y0, x1, y1)
{
	let len = Math.hypot(x1 - x0, y1 - y0);
	let ux = (x1 - x0) / len, uy = (y1 - y0) / len;
	let nx = -uy, ny = ux;
	let sw = 5.5, hw = 11.5, hl = 15;
	let bx = x1 - ux * hl, by = y1 - uy * hl;
	ctx.beginPath();
	ctx.moveTo(x0 + nx * sw, y0 + ny * sw);
	ctx.lineTo(bx + nx * sw, by + ny * sw);
	ctx.lineTo(bx + nx * hw, by + ny * hw);
	ctx.lineTo(x1, y1);
	ctx.lineTo(bx - nx * hw, by - ny * hw);
	ctx.lineTo(bx - nx * sw, by - ny * sw);
	ctx.lineTo(x0 - nx * sw, y0 - ny * sw);
	ctx.closePath();
	ctx.fillStyle = '#fff';
	ctx.fill();
	ctx.strokeStyle = '#000';
	ctx.lineWidth = 1;
	ctx.stroke();
}

function solidHead(ctx, tx, ty, ux, uy)
{
	let hl = 19, hw = 11;
	ctx.beginPath();
	ctx.moveTo(tx, ty);
	ctx.lineTo(tx - ux * hl - uy * hw, ty - uy * hl + ux * hw);
	ctx.lineTo(tx - ux * hl + uy * hw, ty - uy * hl - ux * hw);
	ctx.closePath();
	ctx.fill();
}

function doubleArrow(ctx, x0, y0, x1, y1)
{
	let len = Math.hypot(x1 - x0, y1 - y0);
	let ux = (x1 - x0) / len, uy = (y1 - y0) / len;
	ctx.strokeStyle = '#000';
	ctx.fillStyle = '#000';
	ctx.lineWidth = 3.5;
	ctx.setLineDash([]);
	line(ctx, x0 + ux * 15, y0 + uy * 15, x1 - ux * 15, y1 - uy * 15);
	solidHead(ctx, x1, y1, ux, uy);
	solidHead(ctx, x0, y0, -ux, -uy);
}

const panelDecor = {
	id: 'panelDecor',
	afterDraw(chart)
	{
		let p = panels.find(item => item.id === chart.canvas.id);
		let ctx = chart.ctx;
		let a = chart.chartArea;
		let xs = chart.scales.x, ys = chart.scales.y;
		ctx.save();
		// inward tick marks
		ctx.strokeStyle = '#000';
		ctx.lineWidth = 1.5;
		for(let v of tensionTicks)
		{
			if(v === 0) continue;
			let px = Math.round(xs.getPixelForValue(v)) + 0.5;
			line(ctx, px, a.bottom, px, a.bottom - 4);
		}
		for(let v of pressureTicks)
		{
			if(v === 0) continue;
			let py = Math.round(ys.getPixelForValue(v)) + 0.5;
			line(ctx, a.left, py, a.left + 4, py);
		}
		// panel title
		ctx.fillStyle = '#000';
		ctx.font = 'bold 22px Liberation Sans, Arial, sans-serif';
		ctx.textAlign = 'center';
		ctx.textBaseline = 'middle';
		ctx.fillText(p.title, (a.left + a.right) / 2 - 3, a.top + 15);
		// axis titles
		ctx.font = '19px ' + serif;
		if(p.yLabels)
		{
			ctx.save();
			ctx.translate(a.left - 58, (a.top + a.bottom) / 2 + 4);
			ctx.rotate(-Math.PI / 2);
			ctx.fillText('Measured Pressure [MPa]', 0, 0);
			ctx.restore();
		}
		if(p.xTitleAt !== null)
		{
			ctx.fillText('Measured Tension\u00a0\u00a0 [N]', xs.getPixelForValue(p.xTitleAt), a.bottom + 57);
		}
		// direction arrows
		if(p.id === 'p44')
		{
			for(let ar of cycleArrows)
			{
				hollowArrow(ctx, xs.getPixelForValue(ar[0]), ys.getPixelForValue(ar[1]), xs.getPixelForValue(ar[2]), ys.getPixelForValue(ar[3]));
			}
		}
		// amplitude marks
		if(p.id === 'p49')
		{
			let tMin = xs.getPixelForValue(tensionMinMax[0]);
			let tMax = xs.getPixelForValue(tensionMinMax[1]);
			let pMin = ys.getPixelForValue(pressureMinMax[0]);
			let pMax = ys.getPixelForValue(pressureMinMax[1]);
			let arrowY = ys.getPixelForValue(0.092);
			let arrowX = xs.getPixelForValue(90.9);
			let lineEnd = xs.getPixelForValue(92);
			ctx.strokeStyle = '#333';
			ctx.lineWidth = 1.2;
			ctx.setLineDash([7, 5]);
			line(ctx, xs.getPixelForValue(62.2), pMax, lineEnd, pMax);
			line(ctx, tMin, pMin, lineEnd, pMin);
			line(ctx, tMin, pMin, tMin, arrowY);
			line(ctx, tMax, ys.getPixelForValue(0.266), tMax, arrowY);
			doubleArrow(ctx, tMin, arrowY, tMax, arrowY);
			doubleArrow(ctx, arrowX, pMax, arrowX, pMin);
			ctx.fillStyle = '#000';
			ctx.font = '17.5px ' + serif;
			ctx.textAlign = 'center';
			ctx.textBaseline = 'alphabetic';
			ctx.fillText('Max', xs.getPixelForValue(82.4), pMax - 4);
			ctx.fillText('Min', xs.getPixelForValue(81.3), pMin - 5);
			ctx.textBaseline = 'middle';
			ctx.fillText('Min', xs.getPixelForValue(21.9), arrowY);
			ctx.fillText('Max', xs.getPixelForValue(66.5), arrowY);
			ctx.fillText('Tension', xs.getPixelForValue(45.6), ys.getPixelForValue(0.068));
			ctx.fillText('Amplitude', xs.getPixelForValue(45.6), ys.getPixelForValue(0.033));
			ctx.textAlign = 'left';
			ctx.fillText('Pressure', xs.getPixelForValue(94.8), ys.getPixelForValue(0.264));
			ctx.fillText('Amplitude', xs.getPixelForValue(94.8), ys.getPixelForValue(0.230));
		}
		ctx.restore();
	}
};

function noPad(s)
{
	s.paddingTop = 0;
	s.paddingBottom = 0;
	s.paddingLeft = 0;
	s.paddingRight = 0;
}

let board = document.getElementById('board');
for(let p of panels)
{
	let canvas = document.createElement('canvas');
	canvas.id = p.id;
	canvas.width = p.width;
	canvas.height = 365;
	canvas.style.left = p.left + 'px';
	canvas.style.top = p.top + 'px';
	canvas.style.width = p.width + 'px';
	canvas.style.height = '365px';
	board.appendChild(canvas);
	new Chart(canvas, {
		type: 'scatter',
		data: {
			datasets: [{
				data: p.points.map(pt => ({ x: pt[0], y: pt[1] })),
				pointRadius: 1.05,
				pointHoverRadius: 1.05,
				borderWidth: 0,
				backgroundColor: '#000'
			}]
		},
		options: {
			responsive: false,
			animation: false,
			devicePixelRatio: 1,
			events: [],
			layout: { padding: { top: 17, right: p.padRight, bottom: 0, left: 0 } },
			plugins: { legend: { display: false }, tooltip: { enabled: false }, title: { display: false } },
			scales: {
				x: {
					type: 'linear',
					min: tensionTicks[0],
					max: tensionTicks[tensionTicks.length - 1],
					afterBuildTicks: s => { s.ticks = tensionTicks.map(v => ({ value: v })); },
					afterFit: s => { s.height = 72; noPad(s); },
					grid: { display: false, drawTicks: false },
					border: { display: true, color: '#000', width: 2 },
					ticks: { padding: 10, maxRotation: 0, autoSkip: false, color: '#000', font: { size: 20 } }
				},
				y: {
					type: 'linear',
					min: pressureTicks[0],
					max: pressureTicks[pressureTicks.length - 1],
					afterBuildTicks: s => { s.ticks = pressureTicks.map(v => ({ value: v })); },
					afterFit: s => { s.width = 86; noPad(s); },
					grid: { display: false, drawTicks: false },
					border: { display: true, color: '#000', width: 2 },
					ticks: { display: p.yLabels, padding: 12, color: '#000', font: { size: 20 }, callback: v => String(+v.toFixed(1)) }
				}
			}
		},
		plugins: [panelDecor]
	});
}
</script>
</body>
</html>
